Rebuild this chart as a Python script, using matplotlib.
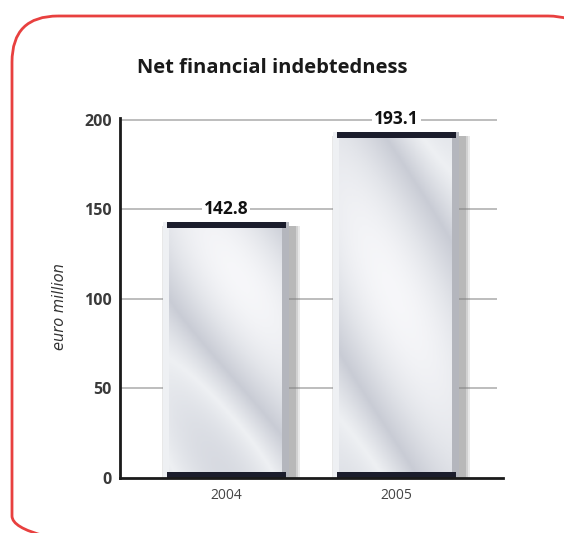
import numpy as np
import matplotlib
matplotlib.use("Agg")
import matplotlib.pyplot as plt
from matplotlib.patches import FancyBboxPatch, Rectangle
from matplotlib.colors import LinearSegmentedColormap

# data
years = ["2004", "2005"]
values = [142.8, 193.1]
labels = ["142.8", "193.1"]
yticks = [0, 50, 100, 150, 200]

plt.rcParams['font.family'] = ['Open Sans', 'DejaVu Sans']

fig = plt.figure(figsize=(5.64, 5.33), dpi=100)

# background axes in pixel units for the red rounded frame (clipped to the figure)
bg = fig.add_axes([0, 0, 1, 1])
bg.set_xlim(0, 564)
bg.set_ylim(533, 0)
bg.axis("off")
frame = FancyBboxPatch((12, 16), 582, 546, boxstyle="round,pad=0,rounding_size=46",
                       fill=False, edgecolor="#e8403f", linewidth=2.0)
bg.add_patch(frame)

fig.text(272 / 564, 1 - 68 / 533, "Net financial indebtedness", ha="center", va="center",
         fontsize=14.5, fontweight="bold", color="#1a1a1a")

ax = fig.add_axes([120 / 564, 55 / 533, 383 / 564, 360 / 533])
ax.set_xlim(-0.624, 1.629)
ax.set_ylim(0, 201.1)

x = np.arange(len(years))
w = 0.74

# grid lines
for t in yticks[1:]:
    ax.hlines(t, -0.624, 1.594, color="#b8b8b8", lw=1.3, zorder=1)

cmap = LinearSegmentedColormap.from_list("metal", ["#fbfbfd", "#e3e5ea", "#c9ccd5", "#eef0f3", "#d2d5dd"])

for i, v in enumerate(values):
    # soft shadow
    for k, a in enumerate([0.18, 0.22, 0.3]):
        d = 0.012 * (3 - k)
        sh = Rectangle((x[i] - w / 2 + 0.03 - d, -2.8 - d * 30), w + 2 * d, v + 1 + d * 30,
                       facecolor="#808080", edgecolor="none", alpha=a, zorder=2)
        ax.add_patch(sh)
    bar = ax.bar(x[i], v, width=w, color="#d5d7de", edgecolor="none", zorder=3)[0]
    # metallic fill
    yy, xx = np.mgrid[0:1:200j, 0:1:100j]
    img = 0.5 + 0.3 * np.sin(2.4 * (xx * 1.3 + yy * 1.5) + i * 1.3) + 0.15 * np.cos(4 * yy + i)
    im = ax.imshow(img, cmap=cmap, extent=(x[i] - w / 2, x[i] + w / 2, 0, v),
                   aspect="auto", zorder=4, origin="lower", vmin=0, vmax=1)
    im.set_clip_path(bar)
    # side highlights / shadows
    ax.add_patch(Rectangle((x[i] - w / 2, 0), 0.035, v, facecolor="#eef0f3", edgecolor="none", zorder=5))
    ax.add_patch(Rectangle((x[i] + w / 2 - 0.04, 0), 0.04, v, facecolor="#b4b6bd", edgecolor="none", zorder=5))
    # dark caps
    ax.add_patch(Rectangle((x[i] - w / 2 + 0.02, v - 3.4), w - 0.04, 3.4, facecolor="#1b1d2c", edgecolor="none", zorder=6))
    ax.add_patch(Rectangle((x[i] - w / 2 + 0.02, 0), w - 0.04, 3.6, facecolor="#1b1d2c", edgecolor="none", zorder=6))
    ax.text(x[i], v + 7.5, labels[i], ha="center", va="center", fontsize=12.5, fontweight="bold",
            color="#111111", zorder=7,
            bbox=dict(facecolor="white", edgecolor="none", pad=1.5))

for s in ["top", "right"]:
    ax.spines[s].set_visible(False)
ax.spines["left"].set_linewidth(2)
ax.spines["bottom"].set_linewidth(2)
ax.spines["left"].set_color("#1a1a1a")
ax.spines["bottom"].set_color("#1a1a1a")
ax.spines["left"].set_zorder(8)
ax.spines["bottom"].set_zorder(8)

ax.set_yticks(yticks)
ax.set_yticklabels([str(t) for t in yticks], fontsize=11.5, fontweight="bold", color="#3a3a3a")
ax.set_xticks(x)
ax.set_xticklabels(years, fontsize=10, color="#444444")
ax.tick_params(axis="both", length=0)
ax.tick_params(axis="y", pad=6)
ax.tick_params(axis="x", pad=7)

fig.text(60 / 564, 1 - 307 / 533, "euro million", rotation=90, ha="center", va="center",
         fontsize=10.5, fontstyle="italic", color="#333333", fontfamily="DejaVu Sans")

fig.savefig("out.png", dpi=100)
